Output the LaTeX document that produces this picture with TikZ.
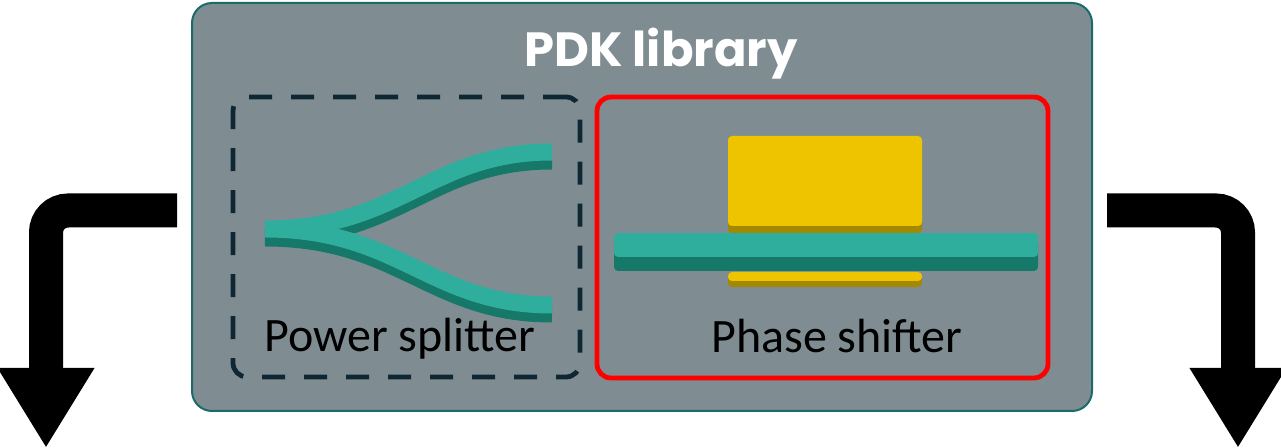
\documentclass[tikz,border=0pt]{standalone}
\usepackage{fontspec}
\setmainfont{Carlito}
\newfontfamily\poppins{Poppins}
\usetikzlibrary{arrows.meta,positioning}

\definecolor{libgray}{HTML}{7F8D93}
\definecolor{libedge}{HTML}{1B6B6B}
\definecolor{dashnavy}{HTML}{0E2733}
\definecolor{wglight}{HTML}{2FAE9E}
\definecolor{wgdark}{HTML}{167868}
\definecolor{heatlight}{HTML}{EEC400}
\definecolor{heatdark}{HTML}{A38800}

\begin{document}
\begin{tikzpicture}[x=0.5pt,y=-0.5pt,
lib/.style={
draw=libedge, line width=1pt, fill=libgray, rounded corners=10pt, minimum width=450pt, minimum height=204pt
},
part/.style={line width=2.4pt, rounded corners=7pt, inner sep=0pt},
partlabel/.style={anchor=base, font=\fontsize{24}{28}\selectfont},
turn/.style={line width=17pt, rounded corners=11pt, -{Triangle[width=45.5pt,length=40pt]}},
wg/.style={line width=8.5pt}
]
    \useasboundingbox (0,0) rectangle (1281,448);

    \node [lib] (lib) at (642,207) {};
    \node [anchor=base, text=white, font=\poppins\bfseries\fontsize{24}{28}\selectfont] (title) at (661,67) {PDK library};

    \node [part, draw=dashnavy, dash pattern=on 11.5pt off 9.5pt, minimum width=173.5pt, minimum height=140pt] (split) at (406.5,237) {};
    \node [part, draw=red, minimum width=225.5pt, minimum height=140.5pt] (shift) at (822.5,237.5) {};

    \foreach \c/\s in {wgdark/-4.5pt, wglight/0pt}{
      \draw [wg, \c, yshift=\s] (265,229) .. controls (400,229) and (430,152) .. (552,152)
        (265,229) .. controls (400,229) and (430,305) .. (552,305);
    }
    \node [partlabel] (splitlabel) at (400,352) {Power splitter};

    \fill [heatdark, rounded corners=2pt] (728,140) rectangle (922,233);
    \fill [heatlight, rounded corners=2pt] (728,136) rectangle (922,226);
    \fill [heatdark, rounded corners=2pt] (728,276) rectangle (922,287);
    \fill [heatlight, rounded corners=2pt] (728,272) rectangle (922,281);
    \fill [wgdark, rounded corners=2pt] (614,240) rectangle (1038,271);
    \fill [wglight, rounded corners=2pt] (614,233) rectangle (1038,257);
    \node [partlabel] (shiftlabel) at (837,353) {Phase shifter};

    \coordinate (outl) at (46,448);
    \coordinate (outr) at (1238,448);
    \draw [turn] ([xshift=-7pt,yshift=-1.75pt]lib.west) -| (outl);
    \draw [turn] ([xshift=7pt,yshift=-1.75pt]lib.east) -| (outr);
\end{tikzpicture}
\end{document}
